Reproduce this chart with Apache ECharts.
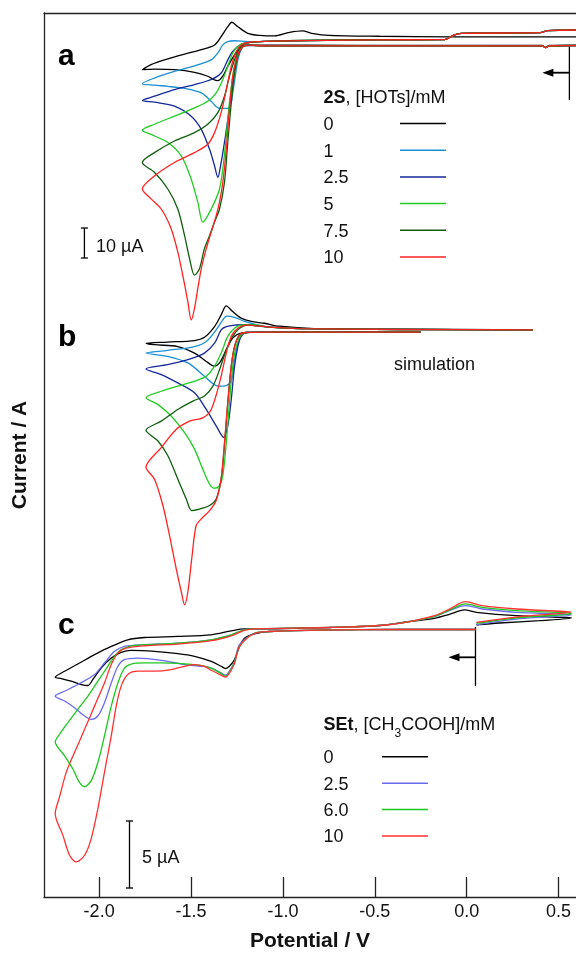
<!DOCTYPE html>
<html>
<head>
<meta charset="utf-8">
<script src="https://cdn.jsdelivr.net/npm/echarts@6/dist/echarts.min.js"></script>
<style>
  html, body { margin: 0; padding: 0; background: #fff; }
  #main { width: 576px; height: 957px; }
</style>
</head>
<body>
<div id="main"></div>
<script>
var FONT = '"Liberation Sans", Arial, Helvetica, sans-serif';

// potential axis (V)
var X_MIN = -2.30, X_MAX = 0.595;
var potentialTicks = [-2.0, -1.5, -1.0, -0.5, 0.0, 0.5];

// legends
var hotsLabels = ['0', '1', '2.5', '5', '7.5', '10'];
var hotsColors = ['#000000', '#1b8fd4', '#14299a', '#22cc22', '#0e5e0e', '#ff2222'];
var acidLabels = ['0', '2.5', '6.0', '10'];
var acidColors = ['#000000', '#6a6af0', '#1ec81e', '#ff3030'];

// start potentials (arrows), V
var startA = 0.559, startC = 0.048;

// ---- panel a : 2S + HOTs, current in uA, [E, i] ----
var tailAFwd = [[0.603, 0.1], [0.45, 0.0], [0.43, -0.6], [0.41, 0.0], [-0.6, 0.0], [-1.1, 0.0]];
var tailARet = [[-1.05, 1.6], [-0.5, 2.0], [-0.12, 2.1], [-0.07, 3.6], [-0.03, 4.2], [0.40, 4.4], [0.44, 5.1], [0.603, 5.3]];

var a0 = [[0.603, 0.17], [0.45, 0.1], [0.43, -0.5], [0.41, 0.1], [-0.6, 0.17], [-1.155, 0.23], [-1.191, 0.33], [-1.227, -0.43],
  [-1.263, -3.0], [-1.300, -6.9], [-1.327, -10.2], [-1.354, -11.7], [-1.381, -11.2], [-1.409, -10.2], [-1.481, -8.9],
  [-1.590, -8.0], [-1.699, -7.8], [-1.765, -8.0],
  [-1.717, -6.3], [-1.626, -4.4], [-1.535, -2.8], [-1.444, -1.3], [-1.372, 0.3], [-1.336, 3.1], [-1.300, 6.4], [-1.278, 7.9],
  [-1.245, 6.4], [-1.191, 4.2], [-1.127, 3.5], [-1.046, 3.3], [-0.964, 4.5], [-0.892, 5.0], [-0.844, 4.2], [-0.746, 3.5],
  [-0.474, 3.2], [-0.094, 3.0], [0.603, 3.0]];
var a1 = tailAFwd.concat([[-1.200, 0.3], [-1.227, -1.3], [-1.245, -4.7], [-1.259, -10.2], [-1.273, -15.8], [-1.281, -19.1],
  [-1.300, -21.0], [-1.336, -21.0], [-1.363, -20.4], [-1.390, -18.6], [-1.444, -15.8], [-1.535, -14.3], [-1.626, -13.6],
  [-1.699, -13.2], [-1.765, -12.7],
  [-1.699, -10.8], [-1.590, -8.6], [-1.481, -6.7], [-1.390, -4.7], [-1.354, -2.4], [-1.327, 0.3], [-1.300, 1.4],
  [-1.263, 1.7], [-1.191, 1.4]], tailARet);
var a25 = tailAFwd.concat([[-1.18, 0.1], [-1.218, -0.2], [-1.245, -2.4], [-1.263, -8.0], [-1.281, -15.8], [-1.300, -24.7],
  [-1.318, -32.4], [-1.339, -40.2], [-1.354, -44.1], [-1.372, -40.2], [-1.399, -34.7], [-1.444, -28.0], [-1.499, -23.6],
  [-1.590, -20.2], [-1.699, -18.9], [-1.765, -18.3],
  [-1.699, -16.9], [-1.590, -14.7], [-1.481, -13.0], [-1.390, -11.3], [-1.336, -9.1], [-1.300, -4.7], [-1.273, -1.9],
  [-1.245, -0.2], [-1.209, 0.9]], tailARet);
var a5 = tailAFwd.concat([[-1.191, 0.2], [-1.227, -0.8], [-1.254, -4.7], [-1.273, -10.2], [-1.291, -19.1], [-1.308, -30.2],
  [-1.327, -41.3], [-1.345, -48.0], [-1.372, -52.4], [-1.409, -56.9], [-1.436, -59.1], [-1.463, -52.4], [-1.499, -44.7],
  [-1.553, -36.9], [-1.626, -32.4], [-1.717, -29.7], [-1.765, -28.3],
  [-1.699, -26.3], [-1.590, -23.6], [-1.481, -20.8], [-1.409, -18.6], [-1.363, -15.8], [-1.327, -11.3], [-1.300, -6.9],
  [-1.273, -2.4], [-1.245, -0.2], [-1.209, 0.9]], tailARet);
var a75 = tailAFwd.concat([[-1.182, 0.2], [-1.218, -0.2], [-1.245, -3.6], [-1.263, -9.1], [-1.281, -19.1], [-1.300, -32.4],
  [-1.318, -45.8], [-1.345, -54.7], [-1.372, -59.1], [-1.399, -63.6], [-1.427, -68.0], [-1.454, -74.7], [-1.481, -76.9],
  [-1.508, -71.3], [-1.535, -63.6], [-1.572, -54.7], [-1.626, -48.0], [-1.699, -42.4], [-1.765, -39.1],
  [-1.699, -35.8], [-1.590, -31.9], [-1.481, -29.1], [-1.409, -26.3], [-1.354, -22.4], [-1.318, -16.9], [-1.291, -10.2],
  [-1.263, -4.7], [-1.236, -0.8], [-1.200, 0.9]], tailARet);
var a10 = tailAFwd.concat([[-1.182, 0.2], [-1.227, -0.8], [-1.254, -4.7], [-1.273, -10.2], [-1.291, -21.3], [-1.308, -34.7],
  [-1.327, -45.8], [-1.345, -52.4], [-1.363, -56.9], [-1.390, -62.4], [-1.417, -68.0], [-1.444, -74.7], [-1.463, -81.3],
  [-1.481, -88.0], [-1.499, -91.9], [-1.517, -85.8], [-1.545, -76.9], [-1.572, -69.1], [-1.608, -61.3], [-1.662, -54.7],
  [-1.717, -51.3], [-1.765, -48.0],
  [-1.699, -43.6], [-1.590, -39.1], [-1.481, -35.8], [-1.409, -33.0], [-1.372, -29.1], [-1.336, -22.4], [-1.308, -14.7],
  [-1.281, -6.9], [-1.254, -1.9], [-1.227, 0.3], [-1.182, 1.2]], tailARet);

// ---- panel b : simulation ----
var tailBFwd = [[-0.25, 0], [-1.1, 0]];
var tailBRet = [[-1.073, 1.7], [-0.91, 1.2], [-0.366, 0.9], [0.36, 0.8]];

var b0 = [[-0.25, 0], [-1.127, 0], [-1.227, -0.3], [-1.273, -2.0], [-1.308, -5.9], [-1.345, -10.3], [-1.372, -11.4],
  [-1.417, -9.8], [-1.481, -7.0], [-1.572, -4.8], [-1.699, -4.2], [-1.745, -3.7],
  [-1.628, -3.3], [-1.481, -2.8], [-1.427, -1.7], [-1.372, 1.9], [-1.336, 5.8], [-1.308, 8.8], [-1.273, 6.9], [-1.227, 4.7],
  [-1.172, 3.6], [-1.100, 3.0], [-1.019, 2.0], [-0.83, 1.2], [-0.366, 1.0], [0.36, 0.8]];
var b1 = tailBFwd.concat([[-1.200, -0.1], [-1.227, -0.9], [-1.245, -3.7], [-1.263, -9.2], [-1.281, -16.4], [-1.308, -17.9],
  [-1.345, -18.1], [-1.372, -17.6], [-1.427, -14.8], [-1.517, -10.3], [-1.628, -8.1], [-1.745, -7.0],
  [-1.628, -6.1], [-1.481, -4.8], [-1.417, -3.1], [-1.363, 0.8], [-1.327, 4.1], [-1.307, 5.4], [-1.263, 5.0], [-1.209, 3.6],
  [-1.155, 2.7]], tailBRet);
var b25 = tailBFwd.concat([[-1.200, -0.1], [-1.227, -1.4], [-1.245, -4.8], [-1.263, -11.4], [-1.281, -22.6], [-1.300, -31.4],
  [-1.322, -35.3], [-1.363, -31.4], [-1.417, -25.9], [-1.481, -20.3], [-1.572, -17.0], [-1.662, -14.2], [-1.745, -12.3],
  [-1.628, -10.9], [-1.517, -9.2], [-1.427, -7.0], [-1.372, -3.7], [-1.336, 0.8], [-1.308, 1.9], [-1.263, 2.4],
  [-1.209, 2.5]], tailBRet);
var b5 = tailBFwd.concat([[-1.191, -0.1], [-1.227, -0.9], [-1.254, -4.8], [-1.273, -11.4], [-1.291, -23.7], [-1.308, -37.0],
  [-1.327, -48.1], [-1.345, -51.4], [-1.372, -52.3], [-1.399, -50.9], [-1.436, -45.9], [-1.481, -39.2], [-1.535, -33.7],
  [-1.608, -28.1], [-1.681, -24.2], [-1.745, -22.0],
  [-1.662, -19.8], [-1.572, -18.1], [-1.481, -16.4], [-1.417, -14.8], [-1.372, -11.4], [-1.336, -7.0], [-1.300, -1.4],
  [-1.263, 1.3], [-1.227, 2.4], [-1.172, 2.5]], tailBRet);
var b75 = tailBFwd.concat([[-1.200, -0.1], [-1.236, -0.9], [-1.263, -4.8], [-1.281, -11.4], [-1.300, -23.7], [-1.318, -38.1],
  [-1.336, -49.2], [-1.363, -55.9], [-1.399, -58.1], [-1.454, -59.3], [-1.496, -59.8], [-1.526, -55.9], [-1.572, -49.2],
  [-1.626, -41.4], [-1.681, -36.4], [-1.745, -32.9],
  [-1.662, -29.8], [-1.572, -25.9], [-1.490, -23.1], [-1.427, -21.4], [-1.381, -18.1], [-1.345, -12.6], [-1.308, -5.9],
  [-1.273, -1.4], [-1.236, 1.3], [-1.191, 2.4]], tailBRet);
var b10 = tailBFwd.concat([[-1.200, -0.1], [-1.236, -0.9], [-1.263, -4.8], [-1.281, -11.4], [-1.300, -23.7], [-1.318, -37.0],
  [-1.336, -49.2], [-1.363, -56.4], [-1.399, -59.8], [-1.444, -62.6], [-1.472, -64.8], [-1.496, -75.9], [-1.517, -87.0],
  [-1.535, -91.4], [-1.553, -87.0], [-1.581, -79.2], [-1.617, -68.1], [-1.653, -58.1], [-1.699, -49.2], [-1.745, -45.3],
  [-1.662, -38.7], [-1.581, -32.6], [-1.508, -29.8], [-1.436, -28.7], [-1.390, -25.9], [-1.345, -17.0], [-1.308, -7.0],
  [-1.281, -1.4], [-1.245, 1.3], [-1.200, 2.4]], tailBRet);

// ---- panel c : SEt + CH3COOH ----
var tailCFwd = [[0.048, 0], [-0.366, 0], [-0.801, -0.04], [-1.073, -0.15]];
var tailCMid = [[-1.155, 0.05], [-0.746, 0.15], [-0.474, 0.30], [-0.311, 0.60]];

var c0 = tailCFwd.concat([[-1.155, -0.32], [-1.209, -0.65], [-1.236, -1.27], [-1.263, -2.26], [-1.291, -2.76], [-1.312, -2.93],
  [-1.336, -2.76], [-1.390, -2.39], [-1.481, -2.01], [-1.572, -1.81], [-1.699, -1.64], [-1.825, -1.57], [-1.880, -1.72],
  [-1.934, -2.14], [-1.989, -2.89], [-2.034, -3.75], [-2.061, -4.20], [-2.097, -4.13], [-2.152, -3.88], [-2.206, -3.68],
  [-2.239, -3.58],
  [-2.188, -3.13], [-2.116, -2.59], [-2.025, -1.89], [-1.934, -1.27], [-1.844, -0.77], [-1.753, -0.60], [-1.572, -0.52],
  [-1.390, -0.40], [-1.281, -0.10], [-1.209, 0.05]], tailCMid,
  [[-0.175, 0.84], [-0.094, 1.14], [-0.012, 1.47], [0.053, 1.29], [0.271, 1.04], [0.544, 0.90], [0.570, 0.86],
  [0.396, 0.67], [0.178, 0.49], [0.053, 0.35]]);
var c25 = tailCFwd.concat([[-1.155, -0.28], [-1.236, -1.14], [-1.263, -2.39], [-1.291, -3.13], [-1.312, -3.43], [-1.336, -3.26],
  [-1.390, -2.89], [-1.444, -2.76], [-1.535, -2.63], [-1.662, -2.31], [-1.789, -2.14], [-1.862, -2.26], [-1.898, -2.76],
  [-1.934, -4.01], [-1.971, -5.50], [-2.007, -6.49], [-2.043, -6.74], [-2.079, -6.49], [-2.134, -5.87], [-2.188, -5.37],
  [-2.239, -5.00],
  [-2.188, -4.63], [-2.116, -4.13], [-2.025, -3.38], [-1.971, -2.51], [-1.916, -1.64], [-1.862, -1.27], [-1.753, -1.14],
  [-1.572, -1.02], [-1.390, -0.77], [-1.281, -0.40], [-1.209, -0.02]], tailCMid,
  [[-0.175, 0.97], [-0.094, 1.42], [-0.007, 1.79], [0.042, 1.68], [0.086, 1.54], [0.271, 1.29], [0.544, 1.14], [0.570, 1.08],
  [0.287, 0.82], [0.053, 0.35]]);
var c60 = tailCFwd.concat([[-1.155, -0.28], [-1.236, -1.27], [-1.263, -2.46], [-1.291, -3.21], [-1.312, -3.51], [-1.336, -3.31],
  [-1.390, -2.89], [-1.481, -2.63], [-1.662, -2.51], [-1.753, -2.51], [-1.825, -2.59], [-1.862, -2.89], [-1.898, -4.01],
  [-1.934, -5.75], [-1.971, -7.99], [-2.007, -9.98], [-2.043, -11.34], [-2.079, -11.79], [-2.107, -11.47], [-2.143, -10.47],
  [-2.188, -9.48], [-2.239, -8.43],
  [-2.215, -7.86], [-2.170, -6.99], [-2.116, -5.99], [-2.061, -5.00], [-2.007, -3.88], [-1.953, -2.76], [-1.916, -2.01],
  [-1.880, -1.51], [-1.825, -1.22], [-1.753, -1.14], [-1.572, -1.02], [-1.390, -0.77], [-1.281, -0.40], [-1.209, -0.02]], tailCMid,
  [[-0.175, 0.99], [-0.094, 1.46], [-0.007, 1.92], [0.086, 1.66], [0.271, 1.42], [0.544, 1.25], [0.570, 1.19],
  [0.287, 0.90], [0.053, 0.47]]);
var c10 = tailCFwd.concat([[-1.155, -0.30], [-1.236, -1.27], [-1.263, -2.54], [-1.291, -3.28], [-1.312, -3.58], [-1.336, -3.43],
  [-1.390, -3.06], [-1.427, -2.76], [-1.481, -2.63], [-1.535, -2.76], [-1.608, -3.01], [-1.699, -3.13], [-1.789, -3.13],
  [-1.844, -3.38], [-1.880, -4.25], [-1.907, -5.75], [-1.934, -7.99], [-1.971, -10.72], [-2.007, -13.46], [-2.043, -15.69],
  [-2.079, -16.94], [-2.125, -17.44], [-2.161, -16.94], [-2.197, -15.45], [-2.239, -13.83],
  [-2.215, -12.54], [-2.179, -10.72], [-2.134, -9.23], [-2.079, -7.49], [-2.025, -5.75], [-1.971, -4.01], [-1.934, -2.63],
  [-1.898, -1.77], [-1.853, -1.40], [-1.753, -1.22], [-1.572, -1.10], [-1.390, -0.84], [-1.281, -0.47], [-1.209, -0.07]], tailCMid,
  [[-0.175, 1.04], [-0.094, 1.53], [-0.007, 2.09], [0.086, 1.79], [0.271, 1.54], [0.544, 1.34], [0.570, 1.31],
  [0.287, 0.97], [0.053, 0.54]]);

var panelA = [a0, a1, a25, a5, a75, a10];
var panelB = [b0, b1, b25, b5, b75, b10];
var panelC = [c0, c25, c60, c10];

// layout: all three panels share one plot box, each with its own current axis
var PLOT_TOP = 13, PLOT_BOTTOM = 902;
var zeroPx = [46, 334, 633];     // pixel row of 0 uA in panel a, b, c
var pxPerUA = [3, 3, 13.4];

var myChart = echarts.init(document.getElementById('main'));

function curveSeries(list, labels, colors, yIdx, prefix) {
  return list.map(function (d, i) {
    return {
      name: prefix + labels[i],
      type: 'line',
      xAxisIndex: 0,
      yAxisIndex: yIdx,
      data: d,
      smooth: 0.3,
      showSymbol: false,
      symbol: 'none',
      silent: true,
      lineStyle: { color: colors[i], width: 1.3 },
      itemStyle: { color: colors[i] }
    };
  });
}

var axisColor = '#222';

var option = {
  animation: false,
  backgroundColor: '#fff',
  grid: { left: 44, right: 0, top: PLOT_TOP, bottom: 957 - PLOT_BOTTOM, containLabel: false },
  xAxis: [{
    type: 'value',
    gridIndex: 0,
    position: 'bottom',
    min: X_MIN,
    max: X_MAX,
    axisLine: { show: true, onZero: false, lineStyle: { color: axisColor, width: 1.3 } },
    axisTick: { show: true, inside: true, length: 20, customValues: potentialTicks, lineStyle: { color: axisColor, width: 1.3 } },
    axisLabel: {
      customValues: potentialTicks,
      formatter: function (v) { return v.toFixed(1); },
      fontSize: 18, fontFamily: FONT, color: '#111', margin: 6
    },
    splitLine: { show: false },
    name: 'Potential / V',
    nameLocation: 'middle',
    nameGap: 34,
    nameTextStyle: { fontSize: 21, fontWeight: 'bold', fontFamily: FONT, color: '#111' }
  }, {
    type: 'value',
    gridIndex: 0,
    position: 'top',
    min: X_MIN,
    max: X_MAX,
    axisLine: { show: true, onZero: false, lineStyle: { color: axisColor, width: 1.3 } },
    axisTick: { show: false },
    axisLabel: { show: false },
    splitLine: { show: false }
  }],
  yAxis: [0, 1, 2].map(function (k) {
    return {
      type: 'value',
      gridIndex: 0,
      position: 'left',
      show: k === 0,
      min: -(PLOT_BOTTOM - zeroPx[k]) / pxPerUA[k],
      max: (zeroPx[k] - PLOT_TOP) / pxPerUA[k],
      axisLine: { show: true, onZero: false, lineStyle: { color: axisColor, width: 1.3 } },
      axisTick: { show: false },
      axisLabel: { show: false },
      splitLine: { show: false },
      name: k === 0 ? 'Current / A' : '',
      nameLocation: 'middle',
      nameGap: 13,
      nameTextStyle: { fontSize: 21, fontWeight: 'bold', fontFamily: FONT, color: '#111' }
    };
  }),
  series: curveSeries(panelA, hotsLabels, hotsColors, 0, 'a ')
    .concat(curveSeries(panelB, hotsLabels, hotsColors, 1, 'b '))
    .concat(curveSeries(panelC, acidLabels, acidColors, 2, 'c '))
};

myChart.setOption(option);

// annotations: panel letters, scale bars, legends, start arrows
function txt(x, y, s, extra) {
  var st = { text: s, x: x, y: y, fill: '#111', fontSize: 18, fontFamily: FONT, align: 'left', verticalAlign: 'middle' };
  for (var k in extra) st[k] = extra[k];
  return { type: 'text', silent: true, style: st };
}
function seg(x1, y1, x2, y2, color, w) {
  return { type: 'line', silent: true, shape: { x1: x1, y1: y1, x2: x2, y2: y2 }, style: { stroke: color || '#000', lineWidth: w || 1.3 } };
}
function scaleBar(x, yMid, uA, panel) {
  var h = uA * pxPerUA[panel];
  var y1 = yMid - h / 2, y2 = yMid + h / 2;
  return [seg(x, y1, x, y2, '#000', 1.3), seg(x - 3.5, y1, x + 3.5, y1, '#000', 1.3), seg(x - 3.5, y2, x + 3.5, y2, '#000', 1.3)];
}
function startArrow(E, yTop, yBot, yArrow) {
  var x = myChart.convertToPixel({ xAxisIndex: 0 }, E);
  return [
    seg(x, yTop, x, yBot, '#000', 1.3),
    seg(x, yArrow, x - 17, yArrow, '#000', 1.8),
    { type: 'polygon', silent: true, shape: { points: [[x - 27, yArrow], [x - 16, yArrow - 4], [x - 16, yArrow + 4]] }, style: { fill: '#000' } }
  ];
}

var g = [];
g.push(txt(58, 56.5, 'a', { fontSize: 30, fontWeight: 'bold', fill: '#000' }));
g.push(txt(58, 338, 'b', { fontSize: 30, fontWeight: 'bold', fill: '#000' }));
g.push(txt(58, 626, 'c', { fontSize: 30, fontWeight: 'bold', fill: '#000' }));

g = g.concat(scaleBar(84.4, 243, 10, 0));
g.push(txt(96, 247, '10 \u00b5A'));
g = g.concat(scaleBar(129.5, 854.5, 5, 2));
g.push(txt(142, 858, '5 \u00b5A'));

g.push(txt(394, 365, 'simulation'));

// legend a
g.push({ type: 'text', silent: true, style: {
  text: '{b|2S}{n|, [HOTs]/mM}', x: 323.5, y: 89.3, verticalAlign: 'top', align: 'left',
  rich: {
    b: { fontSize: 18, lineHeight: 18, fontWeight: 'bold', fontFamily: FONT, fill: '#111', verticalAlign: 'top' },
    n: { fontSize: 18, lineHeight: 18, fontFamily: FONT, fill: '#111', verticalAlign: 'top' }
  }
} });
hotsLabels.forEach(function (lab, i) {
  var y = 125 + i * 26.7;
  g.push(txt(323.5, y, lab));
  g.push(seg(400, y - 1.5, 446, y - 1.5, hotsColors[i], 1.5));
});

// legend c
g.push({ type: 'text', silent: true, style: {
  text: '{b|SEt}{n|, [CH}{s|3}{n|COOH]/mM}', x: 323.5, y: 716, verticalAlign: 'top', align: 'left',
  rich: {
    b: { fontSize: 18, lineHeight: 18, fontWeight: 'bold', fontFamily: FONT, fill: '#111', verticalAlign: 'top' },
    n: { fontSize: 18, lineHeight: 18, fontFamily: FONT, fill: '#111', verticalAlign: 'top' },
    s: { fontSize: 12, lineHeight: 12, fontFamily: FONT, fill: '#111', verticalAlign: 'top', padding: [12, 0, 0, 0] }
  }
} });
acidLabels.forEach(function (lab, i) {
  var y = 758.3 + i * 26.4;
  g.push(txt(323.5, y, lab));
  g.push(seg(382, y - 1.5, 428, y - 1.5, acidColors[i], 1.5));
});

g = g.concat(startArrow(startA, 46, 100, 72.7));
g = g.concat(startArrow(startC, 627, 686, 657.3));

myChart.setOption({ graphic: g });
</script>
</body>
</html>
